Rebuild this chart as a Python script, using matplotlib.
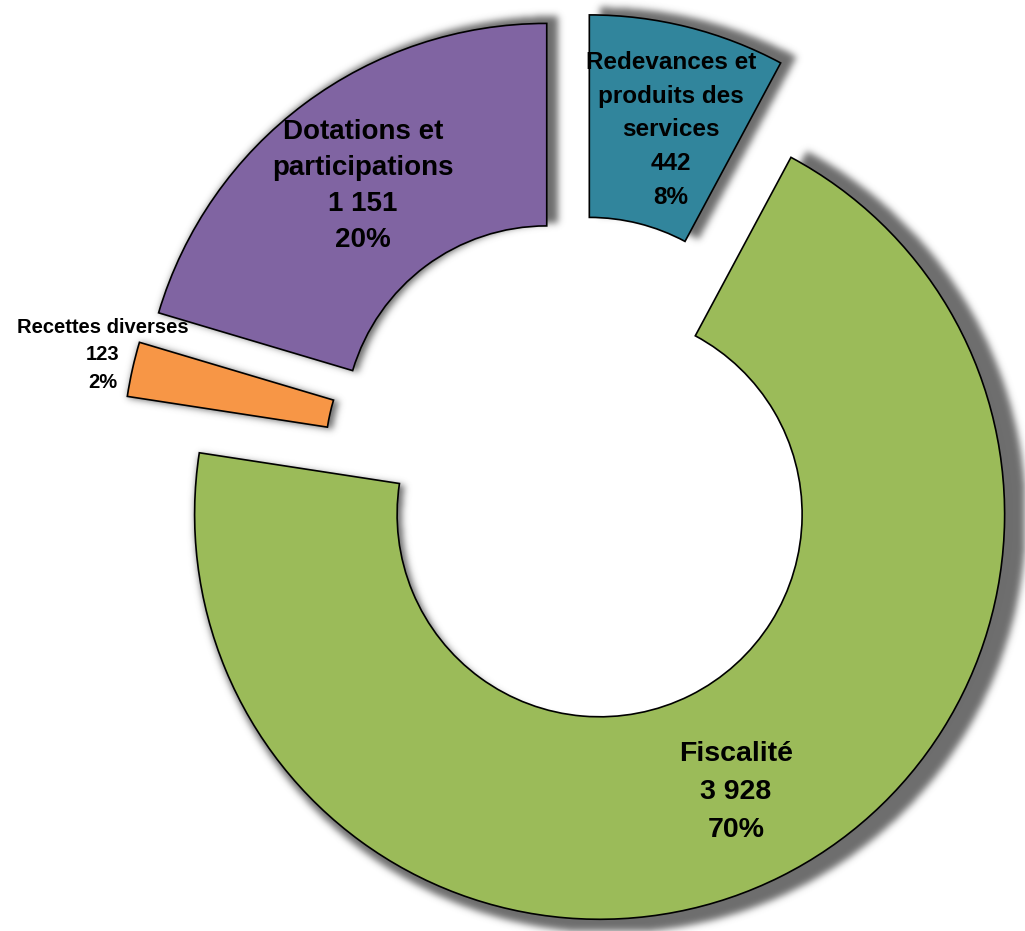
import numpy as np
import matplotlib
matplotlib.use("Agg")
import matplotlib.pyplot as plt

# Recettes de fonctionnement (en milliers)
categories = ["Redevances et\nproduits des\nservices", "Fiscalité",
              "Recettes diverses", "Dotations et\nparticipations"]
values = [442, 3928, 123, 1151]
colors = ["#31859C", "#9BBB59", "#F79646", "#8064A2"]

W, H = 1025, 931
SCALE = 405.0          # pixels per unit radius
CX, CY = 577.0, 469.0  # pie centre in pixels from top-left

x0, x1 = -CX / SCALE, (W - CX) / SCALE
y0, y1 = -(H - CY) / SCALE, CY / SCALE


def fmt_thousands(v):
    return f"{v:,}".replace(",", " ")


fig = plt.figure(figsize=(W / 100, H / 100), dpi=100)
ax = fig.add_axes([0, 0, 1, 1])

wedges, _ = ax.pie(values, colors=colors, radius=1.0, startangle=90,
                   counterclock=False, explode=[0.125] * len(values),
                   wedgeprops=dict(width=0.5, edgecolor="black", linewidth=1.2,
                                   zorder=3))

# soft drop shadow: slightly enlarged copy of each wedge, shifted right,
# rasterised and blurred
gx = np.linspace(x0, x1, W)
gy = np.linspace(y0, y1, H)
XX, YY = np.meshgrid(gx, gy)
sdx, sdy = 11 / SCALE, -3 / SCALE
grow_out, grow_in = 11 / SCALE, 6 / SCALE
mask = np.zeros((H, W))
for w in wedges:
    cx, cy = w.center
    dx, dy = XX - (cx + sdx), YY - (cy + sdy)
    rr = np.hypot(dx, dy)
    th = np.degrees(np.arctan2(dy, dx))
    span = w.theta2 - w.theta1
    inside = (((th - w.theta1) % 360 <= span)
              & (rr <= w.r + grow_out) & (rr >= w.r - w.width + grow_in))
    mask[inside] = 1.0

sigma = 3.5
k = np.arange(-12, 13)
kern = np.exp(-k ** 2 / (2 * sigma ** 2))
kern /= kern.sum()
mask = np.apply_along_axis(lambda r: np.convolve(r, kern, mode="same"), 1, mask)
mask = np.apply_along_axis(lambda c: np.convolve(c, kern, mode="same"), 0, mask)

shadow = np.zeros((H, W, 4))
shadow[..., :3] = 0.43
shadow[..., 3] = np.clip(mask, 0, 1)
ax.imshow(shadow, extent=(x0, x1, y0, y1), origin="lower", zorder=1,
          interpolation="bilinear")

ax.set_xlim(x0, x1)
ax.set_ylim(y0, y1)
ax.set_aspect("equal")
ax.axis("off")

total = sum(values)
pcts = [round(v / total * 100) for v in values]
labels = [f"{c}\n{fmt_thousands(v)}\n{p}%" for c, v, p in zip(categories, values, pcts)]

# label anchor (pixels), font size and line spacing for each wedge
label_pos = [(671, 130), (736, 792), (103, 355), (363, 186)]
label_size = [17.5, 20.5, 14.5, 20]
label_spacing = [1.6, 1.6, 1.55, 1.5]
for text, (px, py), fs, ls in zip(labels, label_pos, label_size, label_spacing):
    ax.text((px - CX) / SCALE, (CY - py) / SCALE, text, ha="center",
            va="center", fontsize=fs, fontweight="bold",
            family="Liberation Sans", linespacing=ls, zorder=5)

fig.savefig("out.png", dpi=100)
